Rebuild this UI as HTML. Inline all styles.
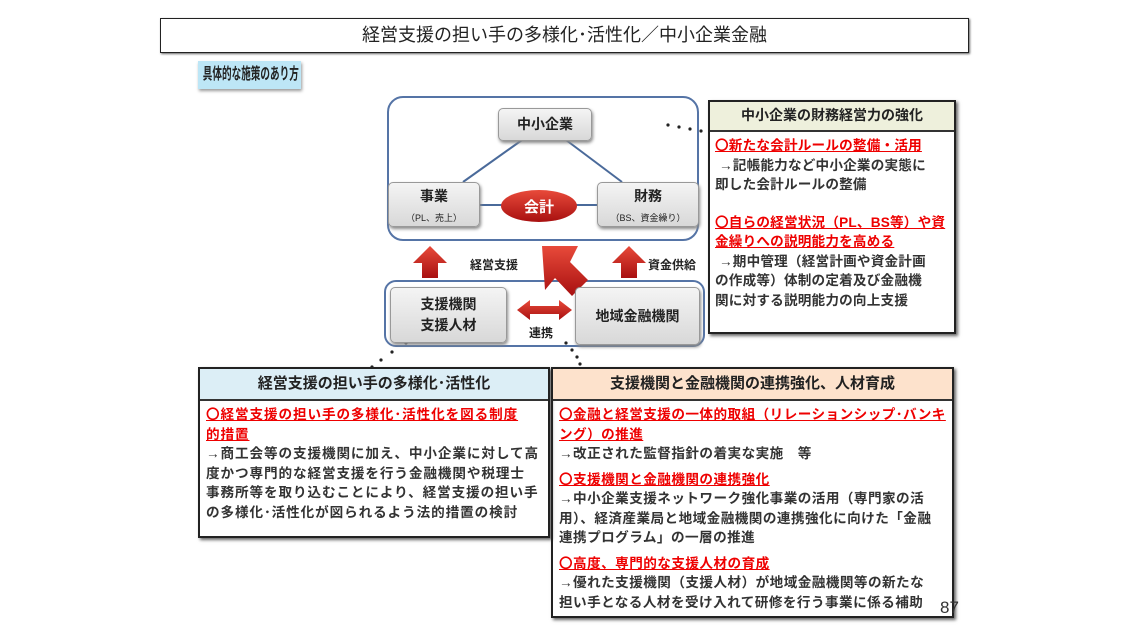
<!DOCTYPE html>
<html><head><meta charset="utf-8"><style>
body{margin:0;width:1128px;height:640px;background:#fff;position:relative;overflow:hidden;font-family:"Liberation Sans","Noto Sans CJK JP",sans-serif;color:#222}
.a{position:absolute;box-sizing:border-box}
.g{background:linear-gradient(#f4f4f4,#d8d8d8);border:1px solid #999;border-radius:5px;box-shadow:1px 2px 3px #888;text-align:center;font-weight:bold}
.r{color:#e00;text-decoration:underline;font-weight:bold}
.t{font-size:13.6px;line-height:19.5px;padding:4px 6px;font-weight:bold;color:#333;white-space:nowrap;letter-spacing:0.2px}
.h{font-weight:bold;text-align:center;font-size:14px;border-bottom:2px solid #333;white-space:nowrap}
</style></head><body>
<div class="a" style="left:160px;top:18px;width:809px;height:35px;border:1.5px solid #222;box-shadow:1px 1px 2px #666;text-align:center;font-size:18px;line-height:32px">経営支援の担い手の多様化･活性化／中小企業金融</div>
<div class="a" style="left:198px;top:61px;width:103px;height:28px;background:#bde6f6;box-shadow:1px 2px 3px #999;overflow:hidden"><div style="font-size:16px;font-weight:bold;line-height:27px;white-space:nowrap;transform:scaleX(0.6);transform-origin:left;padding-left:8px">具体的な施策のあり方</div></div>

<div class="a" style="left:387px;top:96px;width:312px;height:145px;border:2px solid #5574a6;border-radius:16px"></div>
<div class="a" style="left:384px;top:280px;width:321px;height:67px;border:2px solid #5574a6;border-radius:12px"></div>

<svg class="a" style="left:0;top:0" width="1128" height="640">
<g stroke="#4a6a9a" stroke-width="2"><line x1="522" y1="140" x2="463" y2="182"/><line x1="566" y1="140" x2="622" y2="182"/><line x1="480" y1="205" x2="505" y2="205"/><line x1="573" y1="205" x2="597" y2="205"/></g>
<defs><linearGradient id="rd" x1="0" y1="0" x2="0" y2="1"><stop offset="0" stop-color="#e84a3a"/><stop offset="1" stop-color="#a81010"/></linearGradient></defs>
<ellipse cx="539" cy="206" rx="38" ry="16" fill="url(#rd)"/>
<text x="539" y="212" fill="#fff" font-size="15" font-weight="bold" text-anchor="middle" font-family="Liberation Sans,Noto Sans CJK JP,sans-serif">会計</text>
<g fill="url(#rd)">
<polygon points="413,263 430,246 447,263 438,263 438,278 422,278 422,263"/>
<polygon points="612,263 629,246 646,263 637,263 637,278 621,278 621,263"/>
<polygon points="542,246 578,246 570,262 588,280 572,296 555,278 545,290"/>
<polygon points="517,310 530,300 530,306 559,306 559,300 572,310 559,320 559,314 530,314 530,320"/>
</g>
<g fill="#222"><circle cx="668" cy="125" r="1.6"/><circle cx="679" cy="127" r="1.6"/><circle cx="690" cy="129" r="1.6"/><circle cx="701" cy="131" r="1.6"/>
<circle cx="406" cy="343" r="1.6"/><circle cx="392" cy="352" r="1.6"/><circle cx="381" cy="360" r="1.6"/><circle cx="372" cy="367" r="1.6"/>
<circle cx="566" cy="343" r="1.6"/><circle cx="572" cy="350" r="1.6"/><circle cx="577" cy="357" r="1.6"/><circle cx="580" cy="364" r="1.6"/></g>
</svg>

<div class="a g" style="left:498px;top:108px;width:94px;height:33px;font-size:14px;line-height:31px">中小企業</div>
<div class="a g" style="left:388px;top:182px;width:92px;height:45px;font-size:14px;padding-top:3px;line-height:20px">事業<br><span style="font-size:9px;font-weight:normal">（PL、売上）</span></div>
<div class="a g" style="left:597px;top:182px;width:102px;height:45px;font-size:14px;padding-top:3px;line-height:20px">財務<br><span style="font-size:9px;font-weight:normal">（BS、資金繰り）</span></div>
<div class="a" style="left:470px;top:256px;font-size:12px;font-weight:bold">経営支援</div>
<div class="a" style="left:648px;top:256px;font-size:12px;font-weight:bold">資金供給</div>
<div class="a g" style="left:390px;top:287px;width:117px;height:56px;font-size:14px;line-height:21px;padding-top:6px">支援機関<br>支援人材</div>
<div class="a g" style="left:575px;top:287px;width:125px;height:58px;font-size:14px;line-height:56px">地域金融機関</div>
<div class="a" style="left:529px;top:324px;font-size:12px;font-weight:bold">連携</div>

<div class="a" style="left:708px;top:100px;width:248px;height:234px;border:2px solid #222;box-shadow:2px 2px 3px #666">
<div class="h" style="background:#eef0dc;height:28px;line-height:27px">中小企業の財務経営力の強化</div>
<div class="t" style="padding-top:4px;padding-left:5px;letter-spacing:0.2px"><span class="r">〇新たな会計ルールの整備・活用</span><br>&nbsp;→記帳能力など中小企業の実態に<br>即した会計ルールの整備<br><div style="height:18px"></div><span class="r">〇自らの経営状況（PL、BS等）や資<br>金繰りへの説明能力を高める</span><br>&nbsp;→期中管理（経営計画や資金計画<br>の作成等）体制の定着及び金融機<br>関に対する説明能力の向上支援</div>
</div>

<div class="a" style="left:198px;top:367px;width:352px;height:171px;border:2px solid #222;box-shadow:2px 2px 3px #666">
<div class="h" style="background:#dceef6;height:30px;line-height:29px;font-size:15px">経営支援の担い手の多様化･活性化</div>
<div class="t" style="letter-spacing:0.9px"><span class="r">〇経営支援の担い手の多様化･活性化を図る制度<br>的措置</span><br>→商工会等の支援機関に加え、中小企業に対して高<br>度かつ専門的な経営支援を行う金融機関や税理士<br>事務所等を取り込むことにより、経営支援の担い手<br>の多様化･活性化が図られるよう法的措置の検討</div>
</div>

<div class="a" style="left:551px;top:367px;width:403px;height:251px;border:2px solid #222;box-shadow:2px 2px 3px #666">
<div class="h" style="background:#fde2cc;height:30px;line-height:29px;font-size:15px">支援機関と金融機関の連携強化、人材育成</div>
<div class="t" style="line-height:19.5px;letter-spacing:0.45px"><span class="r">〇金融と経営支援の一体的取組（リレーションシップ･バンキ<br>ング）の推進</span><br>→改正された監督指針の着実な実施　等<div style="height:6px"></div><span class="r">〇支援機関と金融機関の連携強化</span><br>→中小企業支援ネットワーク強化事業の活用（専門家の活<br>用）、経済産業局と地域金融機関の連携強化に向けた「金融<br>連携プログラム」の一層の推進<div style="height:6px"></div><span class="r">〇高度、専門的な支援人材の育成</span><br>→優れた支援機関（支援人材）が地域金融機関等の新たな<br>担い手となる人材を受け入れて研修を行う事業に係る補助</div>
</div>
<div class="a" style="left:940px;top:598px;font-size:17px;color:#333">87</div>
</body></html>
